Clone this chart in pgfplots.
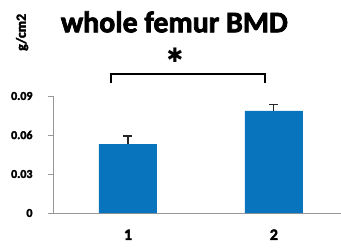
\documentclass[border=0pt]{standalone}
\usepackage{fontspec}
\setmainfont{Carlito}
\newfontfamily\heavyfont{Carlito Bold}[FakeBold=2.5]
\newfontfamily\symfont{DejaVu Sans}
\usepackage{pgfplots}
\pgfplotsset{compat=1.18}
\definecolor{barblue}{RGB}{8,116,190}
\definecolor{axgray}{RGB}{150,150,150}
\begin{document}
\begin{tikzpicture}
\useasboundingbox (0,0) rectangle (341bp,248bp);
\begin{axis}[
  at={(53bp,35bp)}, anchor=south west,
  scale only axis, width=288bp, height=117bp,
  xmin=0.486, xmax=2.46, ymin=0, ymax=0.09,
  axis lines=left, axis line style={-, axgray, line width=0.8pt},
  clip=false,
  scaled y ticks=false,
  ytick={0,0.03,0.06,0.09}, yticklabels={0,0.03,0.06,0.09},
  xtick={1,2}, xticklabels={1,2},
  x tick style={draw=none},
  extra x ticks={1.5}, extra x tick labels={},
  extra x tick style={tick style={draw=axgray, line width=0.8pt}, major tick length=5bp},
  y tick style={axgray, line width=0.8pt}, major tick length=5bp,
  tick align=outside,
  /pgf/number format/assume math mode=true,
  yticklabel style={font=\fontsize{12}{14}\selectfont\heavyfont, anchor=east, xshift=-12bp},
  xticklabel style={font=\fontsize{16}{18}\selectfont\heavyfont, yshift=-8bp},
  ybar, bar width=58bp,
]
\addplot[fill=barblue, draw=none,
  error bars/.cd, y dir=plus, y explicit,
  error bar style={black!85, line width=1.2pt},
  error mark options={rotate=90, mark size=4.5bp, black!85, line width=1.2pt}]
  coordinates {(1,0.053) +- (0,0.0062) (2,0.0785) +- (0,0.0048)};
\draw[black, line width=2.3pt] (axis cs:0.883,0.1) -- (axis cs:0.883,0.1069) -- (axis cs:1.938,0.1069) -- (axis cs:1.938,0.1);
\node[font=\fontsize{20}{22}\selectfont\symfont, inner sep=0pt] at (axis cs:1.322,0.1215) {✱};
\node[font=\fontsize{30}{32}\selectfont\heavyfont] at (axis cs:1.318,0.147) {whole femur BMD};
\node[font=\fontsize{14}{16}\selectfont\heavyfont, rotate=90] at (axis cs:0.274,0.139) {g/cm2};
\end{axis}
\end{tikzpicture}
\end{document}
